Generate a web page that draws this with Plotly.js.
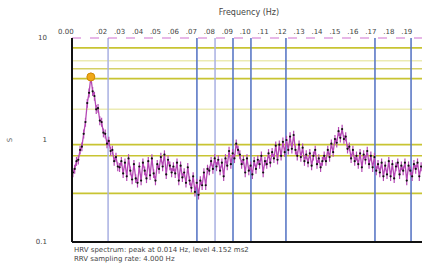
<!DOCTYPE html>
<html><head><meta charset="utf-8">
<script src="https://cdn.plot.ly/plotly-3.0.1.min.js"></script>
<style>html,body{margin:0;padding:0;background:#fff}#chart{width:422px;height:267px}</style>
</head><body><div id="chart"></div>
<script>
// frequencies (Hz)
const freq = [0.004,0.005,0.006,0.007,0.008,0.009,0.010,0.011,0.012,0.013,0.014,0.015,0.016,0.017,0.018,0.019,
0.020,0.021,0.022,0.023,0.024,0.025,0.026,0.027,0.028,0.029,0.030,0.031,0.032,0.033,0.034,0.035,0.036,0.037,0.038,0.039,
0.040,0.041,0.042,0.043,0.044,0.045,0.046,0.047,0.048,0.049,0.050,0.051,0.052,0.053,0.054,0.055,0.056,0.057,0.058,0.059,
0.060,0.061,0.062,0.063,0.064,0.065,0.066,0.067,0.068,0.069,0.070,0.071,0.072,0.073,0.074,0.075,0.076,0.077,0.078,0.079,
0.080,0.081,0.082,0.083,0.084,0.085,0.086,0.087,0.088,0.089,0.090,0.091,0.092,0.093,0.094,0.095,0.096,0.097,0.098,0.099,
0.100,0.101,0.102,0.103,0.104,0.105,0.106,0.107,0.108,0.109,0.110,0.111,0.112,0.113,0.114,0.115,0.116,0.117,0.118,0.119,
0.120,0.121,0.122,0.123,0.124,0.125,0.126,0.127,0.128,0.129,0.130,0.131,0.132,0.133,0.134,0.135,0.136,0.137,0.138,0.139,
0.140,0.141,0.142,0.143,0.144,0.145,0.146,0.147,0.148,0.149,0.150,0.151,0.152,0.153,0.154,0.155,0.156,0.157,0.158,0.159,
0.160,0.161,0.162,0.163,0.164,0.165,0.166,0.167,0.168,0.169,0.170,0.171,0.172,0.173,0.174,0.175,0.176,0.177,0.178,0.179,
0.180,0.181,0.182,0.183,0.184,0.185,0.186,0.187,0.188,0.189,0.190,0.191,0.192,0.193,0.194,0.195,0.196,0.197,0.198];
// spectral power
const power = [0.48,0.52,0.62,0.64,0.80,0.86,1.15,1.5,2.3,2.9,4.15,3.0,2.7,2.0,2.05,1.55,
1.5,1.18,1.15,0.92,0.98,0.78,0.80,0.62,0.68,0.55,
0.54,0.62,0.47,0.60,0.44,0.66,0.50,0.41,0.58,0.42,
0.38,0.55,0.40,0.60,0.50,0.42,0.62,0.45,0.66,0.47,
0.40,0.58,0.52,0.68,0.55,0.72,0.46,0.64,0.56,0.48,
0.55,0.47,0.60,0.40,0.56,0.43,0.48,0.38,0.54,0.40,
0.34,0.44,0.31,0.38,0.29,0.40,0.36,0.48,0.36,0.52,
0.50,0.62,0.52,0.66,0.55,0.64,0.50,0.60,0.44,0.66,
0.56,0.78,0.58,0.74,0.66,0.92,0.80,0.72,0.58,0.64,
0.48,0.66,0.50,0.56,0.46,0.62,0.52,0.64,0.58,0.70,
0.48,0.62,0.58,0.74,0.60,0.76,0.66,0.88,0.64,0.90,
0.70,0.96,0.76,1.0,0.80,1.08,0.82,1.12,0.80,0.70,
0.90,0.68,0.84,0.62,0.72,0.60,0.74,0.56,0.70,0.80,
0.58,0.66,0.54,0.62,0.70,0.62,0.80,0.68,0.92,0.76,
1.02,0.94,1.22,1.05,1.28,1.02,1.08,0.82,0.86,0.66,
0.80,0.62,0.70,0.58,0.74,0.54,0.72,0.64,0.78,0.58,
0.70,0.54,0.68,0.50,0.58,0.48,0.60,0.44,0.56,0.46,
0.62,0.44,0.58,0.42,0.55,0.60,0.46,0.56,0.50,0.60,
0.40,0.56,0.50,0.44,0.58,0.52,0.60,0.44,0.55];
// reference levels (horizontal lines)
const levelsStrong = [8, 4, 0.9, 0.7, 0.3];
const levelsMid = [5];
const levelsLight = [6, 2];
// band markers (vertical lines)
const bandsLight = [0.0236, 0.0832];
const bandsDark = [0.0731, 0.0932, 0.1032, 0.1227, 0.1723, 0.1924];
// tick labels
const tickVals = [0.02,0.03,0.04,0.05,0.06,0.07,0.08,0.09,0.10,0.11,0.12,0.13,0.14,0.15,0.16,0.17,0.18,0.19];
const tickText = ['.02','.03','.04','.05','.06','.07','.08','.09','.10','.11','.12','.13','.14','.15','.16','.17','.18','.19'];
const yTickVals = [0.1, 1, 10];
const yTickText = ['0.1', '1', '10'];

let iMax = 0;
power.forEach((v, i) => { if (v > power[iMax]) iMax = i; });

const shapes = [];
levelsStrong.forEach(v => shapes.push({type:'line', xref:'paper', x0:0, x1:1, yref:'y', y0:v, y1:v, line:{color:'#c8c432', width:1.6}, layer:'below'}));
levelsMid.forEach(v => shapes.push({type:'line', xref:'paper', x0:0, x1:1, yref:'y', y0:v, y1:v, line:{color:'#d4d066', width:1.5}, layer:'below'}));
levelsLight.forEach(v => shapes.push({type:'line', xref:'paper', x0:0, x1:1, yref:'y', y0:v, y1:v, line:{color:'#ecebb4', width:1.5}, layer:'below'}));
bandsLight.forEach(f => shapes.push({type:'line', yref:'paper', y0:0, y1:1, xref:'x', x0:f, x1:f, line:{color:'#a9b0e2', width:1.5}, layer:'below'}));
bandsDark.forEach(f => shapes.push({type:'line', yref:'paper', y0:0, y1:1, xref:'x', x0:f, x1:f, line:{color:'#5b78c6', width:1.6}, layer:'below'}));
shapes.push({type:'line', xref:'paper', x0:0, x1:1, yref:'paper', y0:1, y1:1, line:{color:'#d070d0', width:1.2, dash:'dash'}});
shapes.push({type:'line', xref:'paper', x0:0, x1:1, yref:'paper', y0:0, y1:0, line:{color:'#111', width:2}});
shapes.push({type:'line', xref:'paper', x0:0, x1:0, yref:'paper', y0:0, y1:1, line:{color:'#111', width:2}});

const traces = [
  {x: freq, y: power, type:'scatter', mode:'lines+markers',
   line:{color:'#b448b4', width:1.3},
   marker:{color:'#111', size:2.2},
   error_y:{type:'percent', value:10, color:'#b448b4', thickness:1.2, width:0, visible:true},
   hoverinfo:'skip'},
  {x: [freq[iMax]], y: [power[iMax]], type:'scatter', mode:'markers',
   marker:{color:'#f0a818', size:8, line:{color:'#d08a00', width:1}}}
];

const layout = {
  width:422, height:267,
  margin:{l:72, r:0, t:38, b:25},
  paper_bgcolor:'#fff', plot_bgcolor:'#fff',
  showlegend:false,
  font:{family:'DejaVu Sans, sans-serif', size:7, color:'#444'},
  title:{text:'Frequency (Hz)', font:{size:8, color:'#444'}, x:0.59, xanchor:'center', y:0.955, yanchor:'middle'},
  xaxis:{side:'top', range:[0.0035, 0.1985], showgrid:false, zeroline:false, showline:false,
         tickvals:tickVals, ticktext:tickText, ticks:'', ticklabelstandoff:2, tickfont:{size:7, color:'#444'}},
  yaxis:{type:'log', range:[-1, 1], showgrid:false, zeroline:false, showline:false,
         tickvals:yTickVals, ticktext:yTickText, ticks:'', ticklabelstandoff:24, tickfont:{size:7, color:'#444'},
         title:{text:'S', font:{size:7, color:'#666'}, standoff:22}},
  shapes: shapes,
  annotations:[
    {text:'0.00', xref:'paper', yref:'paper', x:-0.017, xanchor:'center', y:1, yanchor:'bottom', yshift:0, showarrow:false, font:{size:7, color:'#444'}},
    {text:'HRV spectrum: peak at 0.014 Hz, level 4.152 ms2<br>RRV sampling rate: 4.000 Hz', xref:'paper', yref:'paper', x:0, y:0,
     xanchor:'left', yanchor:'top', yshift:-2, align:'left', showarrow:false, font:{size:7, color:'#444'}}
  ]
};
Plotly.newPlot('chart', traces, layout, {displayModeBar:false, staticPlot:true});
</script></body></html>
